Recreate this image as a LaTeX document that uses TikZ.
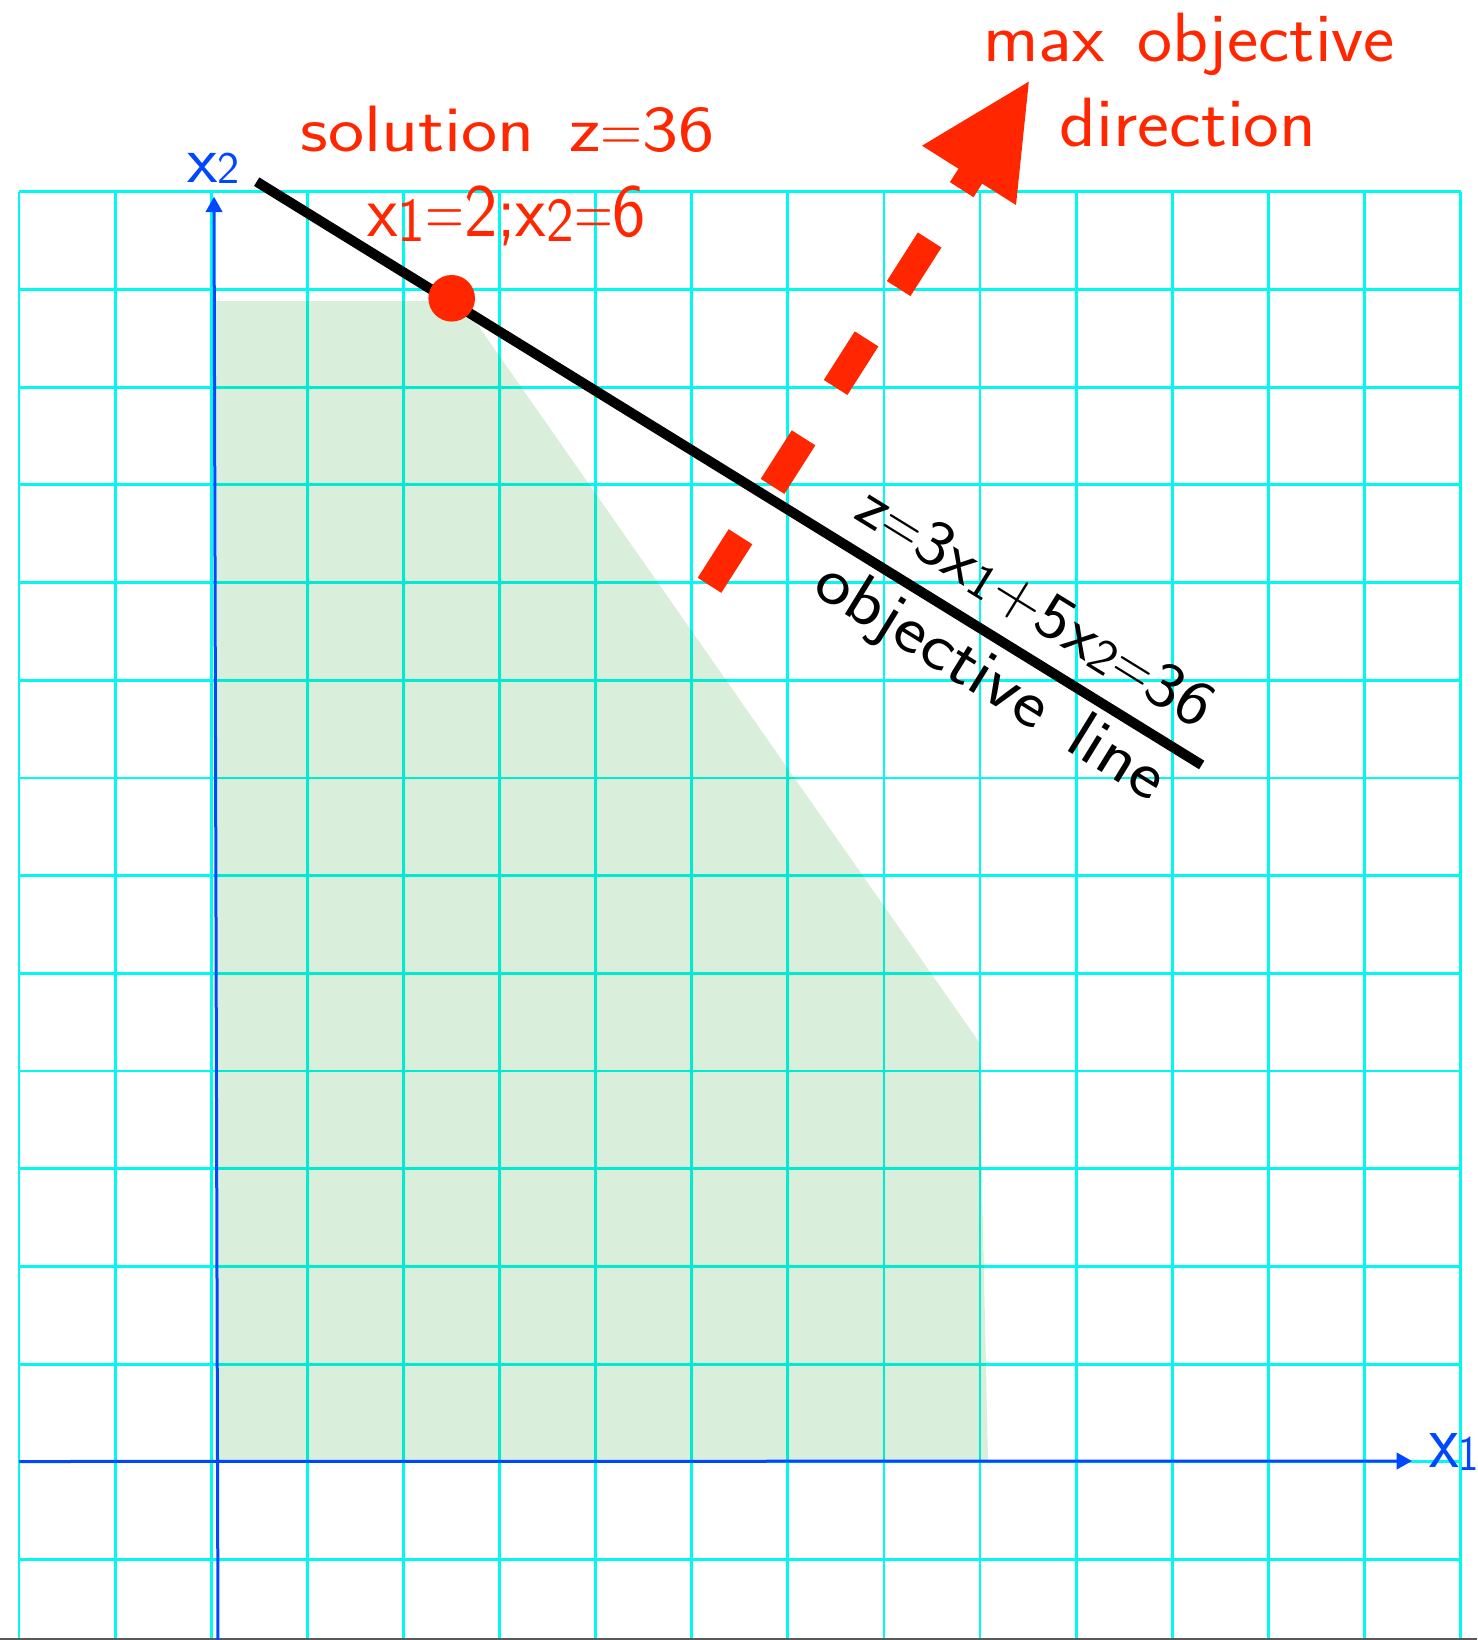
\documentclass[tikz,border=0pt]{standalone}
\usepackage{fontspec}
\usepackage{graphicx}
\usetikzlibrary{arrows.meta}
\definecolor{redc}{RGB}{255,38,0}
\definecolor{bluec}{RGB}{0,72,255}
\definecolor{gridc}{RGB}{0,250,240}
\definecolor{feasc}{RGB}{0,150,20}
\newcommand\sbs[3]{\raisebox{-#2em}{\scalebox{#1}{#3}}}
\newcommand\wsp{\hspace{0.45em}}
\newcommand\teq{\scalebox{0.75}[1]{=}}
\tikzset{
  gridline/.style={draw=gridc, line width=2.8pt},
  axisline/.style={draw=bluec, line width=3pt, -{Triangle[length=15.5pt,width=16.5pt]}},
  lbl/.style={inner sep=0pt, outer sep=0pt},
  redtxt/.style={lbl, text=redc},
  bluetxt/.style={lbl, text=bluec},
  objline/.style={draw=black, line width=10pt},
  dashshaft/.style={draw=redc, line width=28pt, dash pattern=on 57.6pt off 59.7pt},
}
\begin{document}
\begin{tikzpicture}[x=1pt, y=-1pt, font=\sffamily\fontsize{60}{72}\selectfont]
\useasboundingbox (0,0) rectangle (1477,1640);
% grid
\foreach \i in {0,...,15} \draw[gridline] ({19+96.1*\i},191.7) -- ({19+96.1*\i},1640);
\foreach \j in {0,...,14} \draw[gridline] (19,{191.7+97.7*\j}) -- (1460.5,{191.7+97.7*\j});
% feasible region
\fill[feasc, fill opacity=0.15] (216,301) -- (461,301) -- (979,1042) -- (988,1461) -- (216,1461) -- cycle;
% bottom border
\draw[gray!70!black, line width=2pt] (0,1639) -- (1477,1639);
% axes
\coordinate (xs) at (19,1461.5);
\coordinate (xe) at (1412,1461);
\coordinate (ys) at (218,1640);
\coordinate (ye) at (214,196.7);
\draw[axisline] (xs) -- (xe);
\draw[axisline] (ys) -- (ye);
\node[bluetxt, anchor=base west] (x2l) at (187.5,182.7) {\resizebox{52.5pt}{29.4pt}{x\sbs{0.668}{0.015}{2}}};
\node[bluetxt, anchor=base west] (x1l) at (1429,1467.3) {\resizebox{50pt}{34pt}{x\sbs{0.63}{0.044}{1}}};
% objective line
\coordinate (objA) at (256.7,181.7);
\coordinate (objB) at (1201.7,765);
\draw[objline] (objA) -- (objB);
\node[lbl, anchor=base, rotate=-31.68] (eq) at (1024.9,623.9) {\resizebox{406pt}{44pt}{z\teq 3x\sbs{0.75}{0.05}{1}+5x\sbs{0.75}{0.05}{2}\teq 36}};
\node[lbl, anchor=base, rotate=-31.68] (objl) at (980.5,697.7) {\resizebox{400pt}{47pt}{objective\wsp line}};
% solution point
\node[circle, fill=redc, inner sep=0pt, minimum size=46.6pt] (sol) at (451.7,298.3) {};
\node[redtxt, anchor=base] (sol1) at (507.5,151.7) {\resizebox{414pt}{45.5pt}{solution\wsp z\teq 36}};
\node[redtxt, anchor=base] (sol2) at (506.7,236.7) {\resizebox{279pt}{50.7pt}{x\sbs{0.83}{0.065}{1}\teq 2;x\sbs{0.83}{0.065}{2}\teq 6}};
% direction arrow
\coordinate (arS) at (709.5,585.3);
\coordinate (arE) at (993.1,140.4);
\draw[dashshaft] (arS) -- (arE);
\coordinate (tip) at (1028.8,81.7);
\coordinate (barbL) at (922,145.7);
\coordinate (barbR) at (1016,205);
\fill[redc] (tip) -- (barbL) -- (barbR) -- cycle;
\node[redtxt, anchor=base] (max1) at (1189,61.7) {\resizebox{412pt}{48.4pt}{max\wsp objective}};
\node[redtxt, anchor=base] (max2) at (1188,146.7) {\resizebox{257pt}{48.4pt}{direction}};
\end{tikzpicture}
\end{document}
